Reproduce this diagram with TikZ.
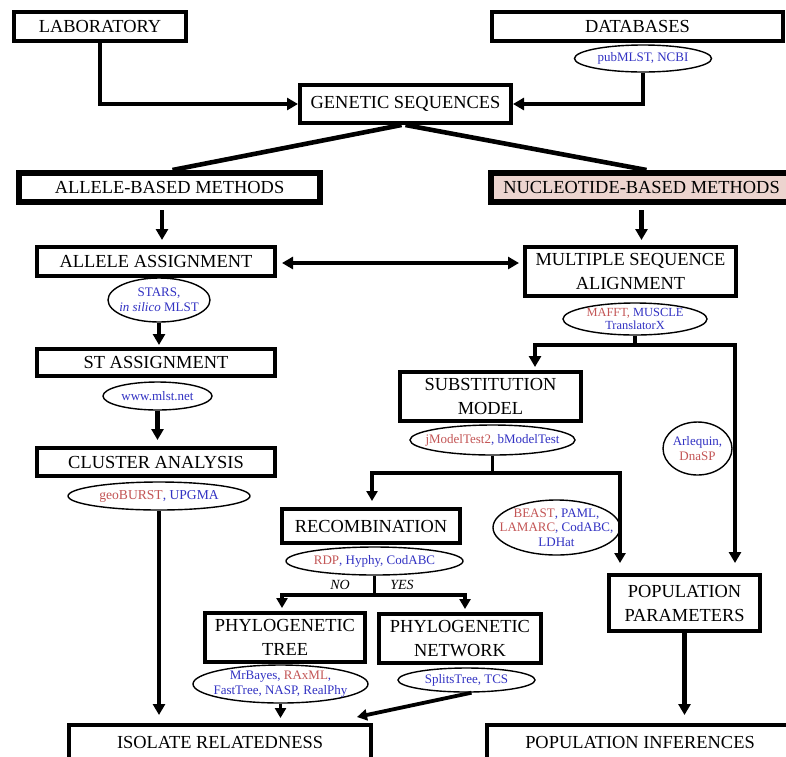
\documentclass[tikz,border=0pt]{standalone}
\usepackage{fontspec}
\setmainfont{Liberation Serif}
\usetikzlibrary{shapes.geometric,arrows.meta,calc}
\definecolor{tblue}{RGB}{50,50,195}
\definecolor{tred}{RGB}{195,85,85}
\definecolor{pinkfill}{RGB}{236,212,207}
\newcommand{\tb}[1]{\textcolor{tblue}{#1}}
\newcommand{\trd}[1]{\textcolor{tred}{#1}}
\begin{document}
\begin{tikzpicture}[x=1pt,y=-1pt,
  box/.style={draw, line width=4pt, fill=white, inner sep=0pt, align=center,
    font=\fontsize{18.4}{24}\selectfont},
  thickbox/.style={box, line width=6pt},
  tool/.style={ellipse, draw, line width=1.4pt, fill=white, inner sep=-20pt, align=center,
    font=\fontsize{13}{14.5}\selectfont},
  conn/.style={line width=4.6pt, -{Triangle[length=11pt,width=12pt]}},
  dconn/.style={line width=4.6pt, {Triangle[length=11pt,width=12pt]}-{Triangle[length=11pt,width=12pt]}},
  conn2/.style={line width=3.8pt, -{Triangle[length=10pt,width=11pt]}},
  plain/.style={line width=4.6pt},
  plain2/.style={line width=3.8pt},
  lbl/.style={font=\fontsize{14}{14}\selectfont\itshape, inner sep=0pt}]
\useasboundingbox (0,0) rectangle (786,756);
\clip (0,0) rectangle (786,756);
\fill[white] (0,0) rectangle (786,756);

% boxes
\node[box, minimum width=172pt, minimum height=29pt] (lab) at (100,26.5) {LABORATORY};
\node[box, minimum width=291pt, minimum height=29pt] (db) at (637.5,26.5) {DATABASES};
\node[tool, minimum width=137pt, minimum height=27pt] (dbe) at (643,58.5) {\tb{pubMLST, NCBI}};
\node[box, minimum width=211pt, minimum height=38pt] (gs) at (405.5,104) {GENETIC SEQUENCES};
\node[thickbox, minimum width=301pt, minimum height=29pt] (abm) at (169.5,187.5) {ALLELE-BASED METHODS};
\node[thickbox, fill=pinkfill, minimum width=301pt, minimum height=29pt] (nbm) at (641.5,187.5) {NUCLEOTIDE-BASED METHODS};
\node[box, minimum width=238pt, minimum height=29pt] (aa) at (156,261.5) {ALLELE ASSIGNMENT};
\node[box, minimum width=211pt, minimum height=49pt] (msa) at (630.5,271.5) {MULTIPLE SEQUENCE\\ALIGNMENT};
\node[tool, minimum width=102pt, minimum height=44pt] (stars) at (159,300) {\tb{STARS,}\\\tb{\textit{in silico} MLST}};
\node[tool, minimum width=144pt, minimum height=32pt, font=\fontsize{12.4}{13}\selectfont] (mafft) at (635,319) {\trd{MAFFT,} \tb{MUSCLE}\\\tb{TranslatorX}};
\node[box, minimum width=238pt, minimum height=27pt] (sta) at (156,362.5) {ST ASSIGNMENT};
\node[tool, minimum width=109pt, minimum height=28pt] (mlst) at (157.5,396) {\tb{www.mlst.net}};
\node[box, minimum width=238pt, minimum height=28pt] (ca) at (156,462) {CLUSTER ANALYSIS};
\node[tool, minimum width=182pt, minimum height=28pt, font=\fontsize{13.6}{14.5}\selectfont] (geo) at (159,496) {\trd{geoBURST}\tb{, UPGMA}};
\node[box, minimum width=181pt, minimum height=49pt] (sm) at (490.5,396.5) {SUBSTITUTION\\MODEL};
\node[tool, minimum width=165pt, minimum height=30pt] (jmt) at (492.5,440) {\trd{jModelTest2}\tb{, bModelTest}};
\node[tool, minimum width=69pt, minimum height=53pt] (arl) at (697.5,448.5) {\tb{Arlequin,}\\\trd{DnaSP}};
\node[tool, minimum width=127pt, minimum height=55pt] (beast) at (556.5,527.5) {\trd{BEAST}\tb{, PAML,}\\\trd{LAMARC}\tb{, CodABC,}\\\tb{LDHat}};
\node[box, minimum width=178pt, minimum height=34pt] (rec) at (371,526) {RECOMBINATION};
\node[tool, minimum width=177pt, minimum height=28pt] (rdp) at (374.5,561) {\trd{RDP}\tb{, Hyphy, CodABC}};
\node[box, minimum width=160pt, minimum height=49pt] (pt) at (285,637.5) {PHYLOGENETIC\\TREE};
\node[box, minimum width=162pt, minimum height=49pt] (pn) at (460,638.5) {PHYLOGENETIC\\NETWORK};
\node[tool, minimum width=175pt, minimum height=38pt] (mrb) at (280.5,684) {\tb{MrBayes, }\trd{RAxML}\tb{,}\\\tb{FastTree, NASP, RealPhy}};
\node[tool, minimum width=137pt, minimum height=24pt] (spl) at (466.5,680) {\tb{SplitsTree, TCS}};
\node[box, minimum width=151pt, minimum height=56pt] (pp) at (684.5,603) {POPULATION\\PARAMETERS};
\node[box, minimum width=302pt, minimum height=35pt] (ir) at (220,742.5) {ISOLATE RELATEDNESS};
\node[box, minimum width=306pt, minimum height=35pt] (pi) at (640,742.5) {POPULATION INFERENCES};
\node[lbl] (no) at (340,585) {NO};
\node[lbl] (yes) at (402,585) {YES};

% junction coordinates
\coordinate (j1) at (635,345);
\coordinate (j1l) at (535,345);
\coordinate (j1r) at (735,345);
\coordinate (j2) at (492.5,473);
\coordinate (j2l) at (372,473);
\coordinate (j2r) at (620,473);
\coordinate (j3) at (374.5,595);
\coordinate (j3l) at (282,595);
\coordinate (j3r) at (465,595);
\coordinate (irtip) at (357,717);

% connectors
\draw[conn] (lab.south) |- (gs.west);
\draw[conn] (dbe.south) |- (gs.east);
\draw[plain] ([xshift=-4pt]gs.south) -- ([xshift=3pt]abm.north);
\draw[plain] (gs.south) -- ([xshift=5pt]nbm.north);
\draw[conn, shorten <=5pt, shorten >=5pt] ([xshift=-7.5pt]abm.south) -- ([xshift=6pt]aa.north);
\draw[dconn, shorten <=5pt, shorten >=4pt] ([yshift=-1.5pt]aa.east) -- ([yshift=-1.5pt]aa.east -| msa.west);
\draw[conn, shorten <=5pt, shorten >=5pt] (nbm.south) -- (nbm.south |- msa.north);
\draw[conn, shorten >=2pt] (stars.south) -- (stars.south |- sta.north);
\draw[conn, shorten >=6pt] (mlst.south) -- (mlst.south |- ca.north);
\draw[conn, shorten >=8pt] (geo.south) -- (geo.south |- ir.north);

\draw[plain] (mafft.south) -- (j1);
\draw[conn, shorten >=3pt] (j1) -| (j1l |- sm.north);
\draw[conn, shorten >=10pt] (j1) -| (j1r |- pp.north);

\draw[plain2] (jmt.south) -- (j2);
\draw[conn2, shorten >=6pt] (j2) -| (j2l |- rec.north);
\draw[conn2, shorten >=10pt] (j2) -| (j2r |- pp.north);

\draw[plain2] (rdp.south) -- (j3);
\draw[conn2, shorten >=3pt] (j3) -| (j3l |- pt.north);
\draw[conn2, shorten >=3pt] (j3) -| (j3r |- pn.north);

\draw[conn2, shorten >=5pt] (mrb.south) -- (mrb.south |- ir.north);
\draw[conn2] ([xshift=5pt]spl.south) -- (irtip);
\draw[conn, shorten >=8pt] (pp.south) -- (pp.south |- pi.north);
\end{tikzpicture}
\end{document}
